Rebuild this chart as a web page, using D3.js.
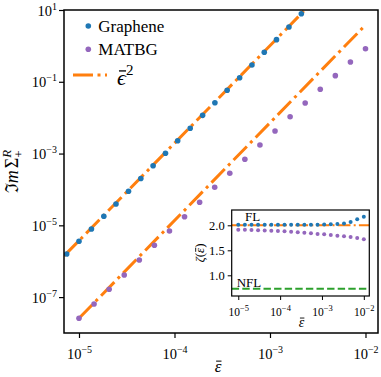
<!DOCTYPE html>
<html>
<head>
<meta charset="utf-8">
<script src="https://cdn.jsdelivr.net/npm/d3@7"></script>
<style>
  body { margin: 0; background: #fff; }
  text { font-family: "Liberation Serif", "DejaVu Serif", serif; fill: #000; }
</style>
</head>
<body>
<svg id="chart" width="381" height="377"></svg>
<script>
// ---- main panel: Im Sigma vs energy ----
const grapheneX = [7.43e-6, 1.00e-5, 1.35e-5, 1.82e-5, 2.44e-5, 3.30e-5, 4.44e-5, 5.97e-5, 8.05e-5, 1.08e-4,
                   1.46e-4, 1.97e-4, 2.65e-4, 3.56e-4, 4.81e-4, 6.47e-4, 8.71e-4, 1.17e-3, 1.58e-3, 2.13e-3];
const grapheneY = [1.59e-6, 3.59e-6, 7.91e-6, 1.79e-5, 3.93e-5, 8.88e-5, 2.02e-4, 4.59e-4, 1.02e-3, 2.28e-3,
                   5.09e-3, 1.16e-2, 2.61e-2, 5.79e-2, 0.130, 0.294, 0.662, 1.49, 3.36, 7.89];
const matbgX = [1.000e-5, 1.438e-5, 2.069e-5, 2.976e-5, 4.281e-5, 6.158e-5, 8.859e-5, 1.274e-4, 1.833e-4, 2.637e-4,
                3.793e-4, 5.456e-4, 7.848e-4, 1.129e-3, 1.624e-3, 2.336e-3, 3.360e-3, 4.833e-3, 6.952e-3, 1.000e-2];
const matbgY = [2.57e-8, 6.43e-8, 1.65e-7, 4.13e-7, 1.08e-6, 2.78e-6, 6.95e-6, 1.74e-5, 4.38e-5, 1.15e-4,
                2.82e-4, 6.92e-4, 1.73e-3, 4.26e-3, 1.06e-2, 2.56e-2, 6.17e-2, 0.148, 0.356, 0.835];
// eps^2 guide lines (end points)
const fitGrapheneX = [6.97e-6, 2.32e-3];
const fitGrapheneY = [1.40e-6, 10];
const fitMatbgX = [1e-5, 1e-2];
const fitMatbgY = [2.57e-8, 3.82];
const xTicks = [1e-5, 1e-4, 1e-3, 1e-2];
const yTicks = [1e1, 1e-1, 1e-3, 1e-5, 1e-7];

// ---- inset: exponent zeta ----
const zetaX = matbgX;
const zetaGraphene = [2.01, 2.01, 2.01, 2.01, 2.01, 2.01, 2.01, 2.01, 2.01, 2.01,
                      2.01, 2.01, 2.012, 2.015, 2.02, 2.025, 2.036, 2.066, 2.12, 2.17];
const zetaMatbg = [1.91, 1.91, 1.905, 1.90, 1.895, 1.89, 1.885, 1.88, 1.87, 1.86,
                   1.852, 1.84, 1.826, 1.82, 1.806, 1.792, 1.78, 1.766, 1.746, 1.72];
const zetaFL = 2.0;
const zetaNFL = 0.73;
const insetXTicks = [1e-5, 1e-4, 1e-3, 1e-2];
const insetYTicks = [1.0, 1.5, 2.0];

const blue = "#1f77b4", purple = "#9467bd", orange = "#ff7f0e", green = "#2ca02c";

var svg = d3.select("#chart");

var m = {left: 64, right: 378, top: 10, bottom: 333};
var x = d3.scaleLog().domain([Math.pow(10, -5.157), Math.pow(10, -1.869)]).range([m.left, m.right]);
var y = d3.scaleLog().domain([1e-8, 1e1]).range([m.bottom, m.top]);

function supLabel(sel, supSize) {
  sel.each(function(d) {
    var e = Math.round(Math.log10(d));
    var t = d3.select(this).text(null);
    t.append("tspan").text("10");
    t.append("tspan").attr("dy", -supSize * 0.6).attr("font-size", supSize + "px")
      .text(e < 0 ? "\u2212" + (-e) : e);
  });
}

// bar over one character of a text (the accent of \bar\epsilon)
function barOver(parent, textSel, idx, baseline, fs) {
  var r = textSel.node().getExtentOfChar(idx);
  parent.append("line")
    .attr("x1", r.x + r.width * 0.22).attr("x2", r.x + r.width * 1.02)
    .attr("y1", baseline - fs * 0.64).attr("y2", baseline - fs * 0.64)
    .attr("stroke", "#000").attr("stroke-width", Math.max(0.9, fs * 0.06));
}

svg.append("clipPath").attr("id", "clipMain").append("rect")
  .attr("x", m.left).attr("y", m.top).attr("width", m.right - m.left).attr("height", m.bottom - m.top);

var plot = svg.append("g").attr("clip-path", "url(#clipMain)");

var line = d3.line().x(d => x(d[0])).y(d => y(d[1]));

[[fitGrapheneX, fitGrapheneY], [fitMatbgX, fitMatbgY]].forEach(function(f) {
  plot.append("path")
    .datum(d3.zip(f[0], f[1]))
    .attr("d", line)
    .attr("fill", "none")
    .attr("stroke", orange)
    .attr("stroke-width", 3)
    .attr("stroke-dasharray", "19 4.8 3 4.8");
});

plot.append("g").selectAll("circle")
  .data(d3.zip(grapheneX, grapheneY))
  .join("circle")
  .attr("cx", d => x(d[0])).attr("cy", d => y(d[1])).attr("r", 2.8)
  .attr("fill", blue);

plot.append("g").selectAll("circle")
  .data(d3.zip(matbgX, matbgY))
  .join("circle")
  .attr("cx", d => x(d[0])).attr("cy", d => y(d[1])).attr("r", 2.8)
  .attr("fill", purple);

// axes
var xAxis = svg.append("g").attr("transform", "translate(0," + m.bottom + ")")
  .call(d3.axisBottom(x).tickValues(xTicks).tickSize(5).tickPadding(8));
var yAxis = svg.append("g").attr("transform", "translate(" + m.left + ",0)")
  .call(d3.axisLeft(y).tickValues(yTicks).tickSize(5).tickPadding(2));
[xAxis, yAxis].forEach(function(a) {
  a.select(".domain").remove();
  a.selectAll(".tick line").attr("stroke", "#000").attr("stroke-width", 1.2);
  a.selectAll(".tick text").attr("font-size", "14.5px").attr("fill", "#000")
    .attr("font-family", "Liberation Serif, serif");
});
xAxis.selectAll(".tick text").attr("dy", "0.9em").call(supLabel, 10);
yAxis.selectAll(".tick text").attr("dy", "0.35em").call(supLabel, 10);

svg.append("rect")
  .attr("x", m.left).attr("y", m.top).attr("width", m.right - m.left).attr("height", m.bottom - m.top)
  .attr("fill", "none").attr("stroke", "#000").attr("stroke-width", 1.5);

// axis labels
var xl = svg.append("text").attr("x", (m.left + m.right) / 2 - 3).attr("y", 372)
  .attr("text-anchor", "middle").attr("font-size", "17px").attr("font-style", "italic")
  .text("\u03b5");
barOver(svg, xl, 0, 372, 17);

var yl = svg.append("text")
  .attr("transform", "translate(18," + ((m.top + m.bottom) / 2) + ") rotate(-90)")
  .attr("text-anchor", "middle").attr("font-size", "18px");
yl.append("tspan").text("\u2111");
yl.append("tspan").attr("font-style", "italic").text("m");
yl.append("tspan").attr("dx", 2).text("\u03a3");
yl.append("tspan").attr("font-style", "italic").attr("font-size", "13px").attr("dy", -7).text("R");
yl.append("tspan").attr("font-size", "13px").attr("dx", -8).attr("dy", 12).text("+");

// legend
var leg = svg.append("g");
leg.append("circle").attr("cx", 88.3).attr("cy", 26).attr("r", 2.8).attr("fill", blue);
leg.append("text").attr("x", 98.3).attr("y", 31.7).attr("font-size", "17px").text("Graphene");
leg.append("circle").attr("cx", 88.3).attr("cy", 49.3).attr("r", 2.8).attr("fill", purple);
leg.append("text").attr("x", 98.3).attr("y", 55).attr("font-size", "17px").text("MATBG");
leg.append("line").attr("x1", 73).attr("x2", 107).attr("y1", 75).attr("y2", 75)
  .attr("stroke", orange).attr("stroke-width", 3).attr("stroke-dasharray", "20 4.5 3 4.5");
var lt = leg.append("text").attr("x", 117).attr("y", 85).attr("font-size", "22px");
lt.append("tspan").attr("font-style", "italic").text("\u03f5");
lt.append("tspan").attr("font-size", "15px").attr("dy", -10).text("2");
barOver(leg, lt, 0, 85, 22);

// ---- inset ----
var im = {left: 231.7, right: 369.3, top: 210, bottom: 296};
var ix = d3.scaleLog().domain(x.domain()).range([im.left, im.right]);
var iy = d3.scaleLinear().domain([0.586, 2.306]).range([im.bottom, im.top]);

svg.append("rect").attr("x", im.left).attr("y", im.top)
  .attr("width", im.right - im.left).attr("height", im.bottom - im.top).attr("fill", "#fff");

svg.append("clipPath").attr("id", "clipInset").append("rect")
  .attr("x", im.left).attr("y", im.top).attr("width", im.right - im.left).attr("height", im.bottom - im.top);
var ip = svg.append("g").attr("clip-path", "url(#clipInset)");

ip.append("line").attr("x1", im.left).attr("x2", im.right)
  .attr("y1", iy(zetaNFL)).attr("y2", iy(zetaNFL))
  .attr("stroke", green).attr("stroke-width", 2).attr("stroke-dasharray", "7.4 3.2");

ip.append("g").selectAll("circle")
  .data(d3.zip(zetaX, zetaMatbg))
  .join("circle")
  .attr("cx", d => ix(d[0])).attr("cy", d => iy(d[1])).attr("r", 2)
  .attr("fill", purple);

ip.append("line").attr("x1", im.left).attr("x2", im.right)
  .attr("y1", iy(zetaFL)).attr("y2", iy(zetaFL))
  .attr("stroke", orange).attr("stroke-width", 2).attr("stroke-dasharray", "12.8 3.2 2 3.2");

ip.append("g").selectAll("circle")
  .data(d3.zip(zetaX, zetaGraphene))
  .join("circle")
  .attr("cx", d => ix(d[0])).attr("cy", d => iy(d[1])).attr("r", 2)
  .attr("fill", blue);

svg.append("text").attr("x", 245).attr("y", 221).attr("font-size", "13px").text("FL");
svg.append("text").attr("x", 236.7).attr("y", 287.3).attr("font-size", "13px").text("NFL");

var ixAxis = svg.append("g").attr("transform", "translate(0," + im.bottom + ")")
  .call(d3.axisBottom(ix).tickValues(insetXTicks).tickSize(4).tickPadding(6));
var iyAxis = svg.append("g").attr("transform", "translate(" + im.left + ",0)")
  .call(d3.axisLeft(iy).tickValues(insetYTicks).tickSize(4).tickPadding(3).tickFormat(d3.format(".1f")));
[ixAxis, iyAxis].forEach(function(a) {
  a.select(".domain").remove();
  a.selectAll(".tick line").attr("stroke", "#000").attr("stroke-width", 1);
  a.selectAll(".tick text").attr("fill", "#000").attr("font-family", "Liberation Serif, serif");
});
ixAxis.selectAll(".tick text").attr("font-size", "11.5px").attr("dy", "0.9em").call(supLabel, 8.5);
iyAxis.selectAll(".tick text").attr("font-size", "12.5px").attr("dy", "0.35em");

svg.append("rect").attr("x", im.left).attr("y", im.top)
  .attr("width", im.right - im.left).attr("height", im.bottom - im.top)
  .attr("fill", "none").attr("stroke", "#000").attr("stroke-width", 1.2);

var ixl = svg.append("text").attr("x", (im.left + im.right) / 2 + 1).attr("y", 327)
  .attr("text-anchor", "middle").attr("font-size", "14px").attr("font-style", "italic")
  .text("\u03b5");
barOver(svg, ixl, 0, 327, 14);

var izg = svg.append("g")
  .attr("transform", "translate(204," + ((im.top + im.bottom) / 2) + ") rotate(-90)");
var izl = izg.append("text")
  .attr("text-anchor", "middle").attr("font-size", "13px");
izl.append("tspan").attr("font-style", "italic").text("\u03b6");
izl.append("tspan").text("(");
izl.append("tspan").attr("font-style", "italic").text("\u03b5");
izl.append("tspan").text(")");
barOver(izg, izl, 2, 0, 13);
</script>
</body>
</html>
